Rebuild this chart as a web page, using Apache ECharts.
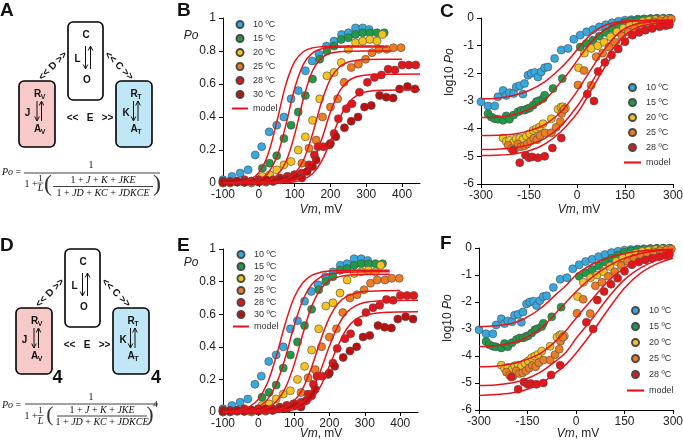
<!DOCTYPE html>
<html><head><meta charset="utf-8">
<script src="https://cdn.jsdelivr.net/npm/echarts@6/dist/echarts.min.js"></script>
<style>html,body{margin:0;padding:0;background:#fff}#c{width:683px;height:444px}</style>
</head><body><div id="c"></div>
<script>
// ---------- DATA ----------
const temps = ['10 ºC','15 ºC','20 ºC','25 ºC','28 ºC','30 ºC'];
const colors = ['#36A9E1','#1E9B48','#F6C31C','#EE7D22','#E5161B','#BE0F10'];

// Po vs Vm data (panels B and E)
const b10 = [[-100,0.02],[-75,0.04],[-52,0.06],[-30,0.08],[-10,0.17],[8,0.22],[29,0.31],[50,0.35],[70,0.40],[90,0.51],[110,0.56],[130,0.68],[149,0.74],[168,0.78],[189,0.83],[210,0.86],[231,0.90],[250,0.91],[270,0.94],[290,0.94],[308,0.93]];
const b15 = [[-100,0.01],[-80,0.005],[-60,0.01],[-40,0.005],[-20,0.01],[10,0.09],[30,0.12],[50,0.165],[70,0.27],[90,0.35],[110,0.43],[130,0.53],[150,0.63],[170,0.75],[190,0.80],[210,0.83],[230,0.87],[250,0.88],[270,0.90],[290,0.91],[310,0.91],[330,0.91],[350,0.91]];
const b20 = [[-100,0.0],[-60,0.005],[-20,0.01],[0,0.02],[10,0.04],[30,0.05],[50,0.08],[70,0.11],[90,0.13],[110,0.20],[130,0.28],[150,0.38],[170,0.51],[190,0.65],[210,0.67],[230,0.73],[250,0.81],[270,0.85],[290,0.86],[310,0.87],[330,0.86],[345,0.90]];
const b25 = [[-100,0.0],[-80,0.0],[-40,0.005],[-20,0.0],[0,0.01],[20,0.005],[40,0.01],[60,0.02],[80,0.04],[100,0.05],[120,0.12],[140,0.21],[160,0.26],[178,0.40],[200,0.46],[220,0.51],[238,0.61],[258,0.70],[278,0.72],[298,0.75],[316,0.79],[335,0.81],[357,0.81],[376,0.82],[397,0.82]];
const b28 = [[-100,0.01],[-80,0.01],[-60,0.005],[-40,0.02],[-20,0.01],[0,0.02],[20,0.01],[40,0.02],[60,0.03],[80,0.04],[100,0.05],[120,0.06],[140,0.11],[155,0.17],[165,0.22],[180,0.22],[197,0.23],[210,0.30],[222,0.39],[244,0.45],[260,0.48],[281,0.55],[303,0.61],[323,0.64],[342,0.655],[361,0.69],[380,0.685],[400,0.715],[419,0.715],[438,0.715]];
const b30 = [[-100,0.005],[-80,0.005],[-60,0.01],[-40,0.005],[-20,0.01],[0,0.005],[20,0.02],[40,0.01],[60,0.02],[80,0.02],[100,0.04],[120,0.03],[135,0.07],[150,0.10],[160,0.14],[200,0.24],[215,0.28],[239,0.335],[258,0.375],[277,0.40],[295,0.46],[314,0.47],[337,0.53],[356,0.52],[375,0.515],[393,0.57],[415,0.585],[436,0.57]];

// log10 Po vs Vm data (panels C and F)
const c10 = [[-300,-3.03],[-278,-3.18],[-257,-3.18],[-247,-2.85],[-231,-2.62],[-221,-2.8],[-211,-2.7],[-198,-2.73],[-190,-2.49],[-179,-2.45],[-169,-2.75],[-164,-2.37],[-153,-2.07],[-143,-2.0],[-132,-1.97],[-122,-2.13],[-112,-1.95],[-101,-1.8],[-91,-1.77],[-70,-1.46],[-49,-1.16],[-28,-1.1],[-10,-0.77],[10,-0.62],[30,-0.5],[50,-0.42],[70,-0.32],[90,-0.24],[110,-0.17],[130,-0.12],[150,-0.08],[170,-0.06],[190,-0.04],[210,-0.03],[230,-0.02],[250,-0.01],[270,-0.01],[290,-0.01]];
const c15 = [[-278,-3.46],[-268,-3.58],[-257,-3.64],[-247,-3.66],[-231,-3.7],[-221,-3.54],[-211,-3.66],[-198,-3.51],[-184,-3.39],[-174,-3.33],[-164,-3.33],[-155,-3.28],[-148,-3.25],[-137,-3.15],[-127,-3.03],[-120,-2.99],[-106,-2.91],[-101,-2.79],[-75,-2.55],[-46,-2.19],[10,-1.05],[30,-0.92],[50,-0.8],[70,-0.66],[90,-0.52],[110,-0.38],[130,-0.26],[150,-0.16],[170,-0.1],[190,-0.07],[210,-0.05],[230,-0.03],[250,-0.02],[270,-0.01],[290,-0.01]];
const c20 = [[-231,-4.34],[-221,-4.46],[-211,-4.42],[-198,-4.5],[-190,-4.36],[-179,-4.34],[-169,-4.39],[-158,-4.27],[-148,-4.18],[-137,-4.06],[-127,-4.0],[-117,-3.94],[-106,-3.82],[-80,-3.64],[-59,-3.3],[-50,-3.22],[-44,-3.21],[-36,-3.26],[5,-1.8],[23,-1.27],[45,-1.1],[65,-1.0],[85,-0.88],[105,-0.68],[125,-0.5],[145,-0.37],[165,-0.26],[185,-0.19],[205,-0.13],[225,-0.09],[245,-0.06],[265,-0.04],[285,-0.03]];
const c25 = [[-215,-4.6],[-205,-4.72],[-195,-4.75],[-185,-4.55],[-175,-4.65],[-165,-4.62],[-155,-4.55],[-145,-4.45],[-135,-4.35],[-125,-4.4],[-115,-4.25],[-100,-4.15],[-80,-4.15],[-65,-3.95],[-52,-3.75],[-48,-3.45],[-40,-3.3],[3,-2.42],[22,-1.9],[44,-2.43],[60,-1.4],[80,-1.27],[100,-1.05],[120,-0.88],[140,-0.65],[160,-0.5],[180,-0.38],[200,-0.28],[220,-0.2],[240,-0.14],[260,-0.1],[280,-0.07],[295,-0.04]];
const c28 = [[-200,-4.78],[-179,-5.23],[-161,-4.96],[-150,-5.05],[-140,-5.02],[-122,-5.05],[-101,-5.0],[-77,-4.7],[-49,-4.34],[32,-2.75],[53,-3.0],[66,-1.93],[87,-1.61],[108,-1.34],[129,-1.12],[150,-0.86],[173,-0.62],[194,-0.52],[214,-0.44],[235,-0.38],[258,-0.32],[277,-0.28],[289,-0.24]];

// model curves, panel B
const mB10 = [[-100,0.001],[-75,0.002],[-50,0.007],[-25,0.021],[0,0.063],[25,0.169],[50,0.369],[75,0.593],[100,0.735],[125,0.797],[150,0.819],[175,0.826],[200,0.829],[250,0.83],[300,0.83],[350,0.83]];
const mB15 = [[-100,0.0],[-50,0.002],[-25,0.006],[0,0.019],[25,0.058],[50,0.156],[75,0.348],[100,0.573],[125,0.722],[150,0.789],[175,0.813],[200,0.821],[250,0.825],[300,0.825],[360,0.825]];
const mB20 = [[-100,0.0],[-50,0.001],[0,0.005],[25,0.015],[50,0.045],[75,0.126],[100,0.293],[125,0.515],[150,0.68],[175,0.757],[200,0.786],[225,0.795],[250,0.798],[300,0.80],[370,0.80]];
const mB25 = [[-100,0.0],[0,0.001],[50,0.008],[75,0.021],[100,0.057],[125,0.141],[150,0.297],[175,0.489],[200,0.631],[225,0.703],[250,0.733],[275,0.744],[300,0.748],[350,0.75],[400,0.75]];
const mB28 = [[-100,0.0],[0,0.0],[50,0.002],[75,0.007],[100,0.018],[125,0.05],[150,0.124],[175,0.261],[200,0.43],[225,0.555],[250,0.619],[275,0.645],[300,0.655],[350,0.659],[450,0.66]];
const mB30 = [[-100,0.0],[0,0.0],[50,0.001],[75,0.003],[100,0.008],[125,0.022],[150,0.056],[175,0.131],[200,0.254],[225,0.39],[250,0.485],[275,0.532],[300,0.553],[350,0.562],[450,0.565]];

// model curves, panel E
const mE10 = [[-100,0.002],[-75,0.005],[-50,0.013],[-25,0.033],[0,0.079],[25,0.176],[50,0.34],[75,0.537],[100,0.699],[125,0.793],[150,0.838],[175,0.857],[200,0.865],[250,0.869],[300,0.87],[370,0.87]];
const mE15 = [[-100,0.001],[-50,0.005],[-25,0.013],[0,0.032],[25,0.076],[50,0.169],[75,0.328],[100,0.524],[125,0.686],[150,0.782],[175,0.827],[200,0.847],[250,0.857],[300,0.86],[370,0.86]];
const mE20 = [[-100,0.0],[-50,0.002],[0,0.011],[25,0.026],[50,0.063],[75,0.143],[100,0.286],[125,0.477],[150,0.648],[175,0.754],[200,0.806],[225,0.829],[250,0.839],[300,0.844],[370,0.845]];
const mE25 = [[-100,0.0],[0,0.002],[50,0.012],[75,0.029],[100,0.067],[125,0.144],[150,0.275],[175,0.438],[200,0.579],[225,0.667],[250,0.711],[275,0.73],[300,0.739],[350,0.744],[400,0.745]];
const mE28 = [[-100,0.0],[0,0.001],[50,0.005],[100,0.027],[125,0.062],[150,0.133],[175,0.253],[200,0.403],[225,0.532],[250,0.613],[275,0.653],[300,0.672],[350,0.682],[450,0.685]];
const mE30 = [[-100,0.0],[0,0.0],[50,0.002],[100,0.014],[125,0.034],[150,0.076],[175,0.157],[200,0.282],[225,0.41],[250,0.514],[275,0.57],[300,0.594],[350,0.61],[450,0.615]];

// model curves, panel C
const mC10 = [[-300,-2.92],[-250,-2.9],[-200,-2.8],[-150,-2.62],[-100,-2.3],[-50,-1.8],[-25,-1.5],[0,-1.15],[25,-0.8],[50,-0.52],[75,-0.33],[100,-0.21],[125,-0.15],[150,-0.11],[200,-0.09],[250,-0.08],[300,-0.08]];
const mC15 = [[-300,-3.6],[-250,-3.58],[-200,-3.5],[-150,-3.3],[-100,-2.95],[-50,-2.3],[-25,-1.95],[0,-1.55],[25,-1.15],[50,-0.8],[75,-0.53],[100,-0.34],[125,-0.22],[150,-0.15],[200,-0.1],[250,-0.09],[300,-0.08]];
const mC20 = [[-300,-4.25],[-250,-4.24],[-200,-4.2],[-150,-4.08],[-100,-3.85],[-50,-3.4],[-25,-3.05],[0,-2.65],[25,-2.2],[50,-1.75],[75,-1.3],[100,-0.92],[125,-0.6],[150,-0.38],[175,-0.25],[200,-0.18],[250,-0.12],[300,-0.1]];
const mC25 = [[-300,-4.75],[-250,-4.74],[-200,-4.7],[-150,-4.58],[-100,-4.35],[-50,-3.9],[0,-3.2],[25,-2.75],[50,-2.25],[75,-1.75],[100,-1.3],[125,-0.92],[150,-0.62],[175,-0.42],[200,-0.3],[250,-0.18],[300,-0.14]];
const mC28 = [[-300,-4.97],[-250,-4.96],[-200,-4.92],[-150,-4.8],[-100,-4.55],[-50,-4.1],[0,-3.45],[25,-3.0],[50,-2.5],[75,-2.0],[100,-1.55],[125,-1.15],[150,-0.82],[175,-0.58],[200,-0.42],[250,-0.26],[300,-0.2]];

// model curves, panel F
const mF10 = [[-300,-2.92],[-250,-2.88],[-200,-2.8],[-160,-2.62],[-110,-2.24],[-60,-1.7],[-30,-1.38],[0,-1.0],[25,-0.78],[50,-0.6],[100,-0.36],[150,-0.2],[200,-0.11],[250,-0.07],[300,-0.05]];
const mF15 = [[-300,-3.65],[-250,-3.62],[-210,-3.55],[-160,-3.35],[-110,-2.98],[-60,-2.38],[-30,-2.0],[0,-1.62],[50,-1.08],[100,-0.67],[150,-0.38],[200,-0.2],[250,-0.11],[300,-0.07]];
const mF20 = [[-300,-4.4],[-250,-4.38],[-200,-4.3],[-160,-4.16],[-110,-3.9],[-60,-3.42],[-30,-3.05],[0,-2.6],[50,-1.9],[100,-1.22],[150,-0.74],[200,-0.44],[250,-0.25],[300,-0.14]];
const mF25 = [[-300,-5.09],[-250,-5.07],[-200,-5.0],[-160,-4.88],[-110,-4.6],[-60,-4.16],[-30,-3.85],[0,-3.35],[50,-2.62],[100,-1.83],[150,-1.17],[200,-0.74],[250,-0.45],[300,-0.26]];
const mF28 = [[-300,-5.46],[-250,-5.43],[-200,-5.37],[-160,-5.27],[-110,-5.02],[-60,-4.6],[-30,-4.3],[0,-3.9],[50,-3.12],[100,-2.27],[150,-1.48],[200,-0.93],[250,-0.59],[300,-0.38]];

const poTicks = [-100,0,100,200,300,400];
const logTicks = [-300,-150,0,150,300];

// ---------- CHART ----------
const FONT = '"Liberation Sans", Arial, sans-serif';
const SERIF = '"Liberation Serif", "Times New Roman", serif';
const MODEL = '#E8141B';

function xAx(gi, min, max, interval, custom) {
  return {
    type:'value', gridIndex:gi, min, max, interval,
    axisLine:{show:true, onZero:false, lineStyle:{color:'#000', width:1}},
    axisTick:{show:true, length:4, lineStyle:{color:'#000'}, customValues: custom},
    axisLabel:{fontSize:12, color:'#222', fontFamily:FONT, margin:6, customValues: custom},
    splitLine:{show:false}
  };
}
function yAx(gi, min, max, interval) {
  return {
    type:'value', gridIndex:gi, min, max, interval,
    axisLine:{show:true, onZero:false, lineStyle:{color:'#000', width:1}},
    axisTick:{show:true, length:4, lineStyle:{color:'#000'}},
    axisLabel:{fontSize:12, color:'#222', fontFamily:FONT, margin:7},
    splitLine:{show:false}
  };
}

const series = [];
function addScatter(sets, ai) {
  sets.forEach((d, i) => series.push({
    type:'scatter', name: temps[i], xAxisIndex:ai, yAxisIndex:ai, data:d,
    symbolSize:8, itemStyle:{color:colors[i], borderColor:'#4a4a4a', borderWidth:0.6, opacity:1}, z:2
  }));
}
function addModel(sets, ai) {
  sets.forEach(d => series.push({
    type:'line', name:'model', xAxisIndex:ai, yAxisIndex:ai, data:d,
    symbol:'none', showSymbol:false, smooth:0.35,
    lineStyle:{color:MODEL, width:1.5}, itemStyle:{color:MODEL}, z:3
  }));
}
addScatter([b10,b15,b20,b25,b28,b30], 0);
addModel([mB10,mB15,mB20,mB25,mB28,mB30], 0);
addScatter([c10,c15,c20,c25,c28], 1);
addModel([mC10,mC15,mC20,mC25,mC28], 1);
addScatter([b10,b15,b20,b25,b28,b30], 2);
addModel([mE10,mE15,mE20,mE25,mE28,mE30], 2);
addScatter([c10,c15,c20,c25,c28], 3);
addModel([mF10,mF15,mF20,mF25,mF28], 3);

function legend(left, top, gap, n, w) {
  return {
    orient:'vertical', left, top, itemWidth:w, itemHeight:7, itemGap:gap,
    padding:0, selectedMode:false,
    textStyle:{fontSize:9, color:'#333', fontFamily:FONT},
    data: temps.slice(0,n).map(name => ({name, icon:'circle'})).concat([
      {name:'model', icon:'path://M0,0L16,0L16,2L0,2Z', itemStyle:{color:MODEL, borderWidth:0}}
    ])
  };
}

// ---------- GRAPHIC (diagrams, equations, labels) ----------
const G = [];
function txt(x, y, text, o) {
  o = o || {};
  G.push({type:'text', x, y, rotation:o.rot||0, style:{
    text, fontSize:o.size||10, fontFamily:o.family||FONT, fontWeight:o.weight||'normal',
    fontStyle:o.style||'normal', fill:o.fill||'#111', align:o.align||'center', verticalAlign:o.va||'middle',
    rich:o.rich
  }, z:10});
}
function ln(x1,y1,x2,y2,w) {
  G.push({type:'line', shape:{x1,y1,x2,y2}, style:{stroke:'#111', lineWidth:w||0.8}, z:10});
}
function arrow(x, yFrom, yTo) {
  const d = yTo > yFrom ? 1 : -1;
  ln(x, yFrom, x, yTo, 1);
  G.push({type:'polyline', shape:{points:[[x-2.3, yTo-d*4.5],[x, yTo],[x+2.3, yTo-d*4.5]]}, style:{stroke:'#111', fill:null, lineWidth:1}, z:10});
}
function box(x,y,w,h,fill) {
  G.push({type:'rect', shape:{x,y,width:w,height:h,r:5}, style:{fill, stroke:'#000', lineWidth:1.6}, z:9});
}
function diagram(dx, dy) {
  const B = {weight:'bold', size:10};
  box(68+dx, 22+dy, 35, 78, '#ffffff');
  box(19+dx, 81+dy, 36, 66, '#F8C9C9');
  box(116+dx, 81+dy, 36, 66, '#C0E7F5');
  txt(86+dx, 35+dy, 'C', B); txt(77.5+dx, 59+dy, 'L', B); txt(87+dx, 80+dy, 'O', B);
  arrow(85.5+dx, 46+dy, 69+dy); arrow(90.5+dx, 69+dy, 46+dy);
  txt(37.5+dx, 94+dy, 'R', B); txt(43+dx, 97+dy, 'V', {weight:'bold', size:7});
  arrow(37+dx, 101+dy, 121+dy); arrow(41.5+dx, 121+dy, 101+dy);
  txt(27.5+dx, 113+dy, 'J', B);
  txt(37.5+dx, 129.5+dy, 'A', B); txt(43+dx, 132.5+dy, 'V', {weight:'bold', size:7});
  txt(134+dx, 94+dy, 'R', B); txt(139.5+dx, 97+dy, 'T', {weight:'bold', size:7});
  arrow(133.5+dx, 101+dy, 121+dy); arrow(138+dx, 121+dy, 101+dy);
  txt(126+dx, 113+dy, 'K', B);
  txt(134+dx, 129.5+dy, 'A', B); txt(139.5+dx, 132.5+dy, 'T', {weight:'bold', size:7});
  txt(53+dx, 66+dy, '<< D >>', {weight:'bold', size:10, rot:Math.PI/4});
  txt(119+dx, 66+dy, '<< C >>', {weight:'bold', size:10, rot:-Math.PI/4});
  txt(90+dx, 118+dy, '<<   E   >>', {weight:'bold', size:10});
}
diagram(0, 0);
diagram(-3, 227);
txt(57.5, 378.5, '4', {weight:'bold', size:18});
txt(156, 378.5, '4', {weight:'bold', size:18});

const IT = {i:{fontStyle:'italic', fontFamily:SERIF, fontSize:10}};
const S = {family:SERIF, size:10, rich:IT};
// Equation A
txt(2, 172, '{i|Po} =', Object.assign({align:'left'}, S));
txt(91, 165.5, '1', S);
ln(24, 173, 160, 173);
txt(31, 184, '1 +', S);
txt(40.5, 178.5, '1', {family:SERIF, size:9});
ln(37.5, 183, 43.5, 183, 0.6);
txt(40.5, 188.5, '{i|L}', S);
txt(48, 185, '(', {family:SERIF, size:24, fill:'#333'});
txt(103, 180, '1 + {i|J} + {i|K} + {i|JKE}', S);
ln(53, 186.5, 153, 186.5);
txt(103, 193, '1 + {i|JD} + {i|KC} + {i|JDKCE}', S);
txt(157, 185, ')', {family:SERIF, size:24, fill:'#333'});
// Equation D
txt(2, 405, '{i|Po} =', Object.assign({align:'left'}, S));
txt(91, 397, '1', S);
ln(25, 404, 158, 404);
txt(31, 416, '1 +', S);
txt(40.5, 410.5, '1', {family:SERIF, size:9});
ln(37.5, 415.5, 43.5, 415.5, 0.6);
txt(40.5, 421, '{i|L}', S);
txt(50, 415, '(', {family:SERIF, size:22, fill:'#333'});
txt(102, 410, '1 + {i|J} + {i|K} + {i|JKE}', S);
ln(57, 416, 147, 416);
txt(102, 422, '1 + {i|JD} + {i|KC} + {i|JDKCE}', S);
txt(150, 415, ')', {family:SERIF, size:22, fill:'#333'});
txt(155.5, 405, '4', {family:SERIF, size:9});

// panel letters
const L = {weight:'bold', size:19, align:'left', va:'top', fill:'#111'};
txt(0, 1, 'A', L); txt(177, 1, 'B', L); txt(440, 2, 'C', L);
txt(0, 236, 'D', L); txt(177, 236, 'E', L); txt(440, 234, 'F', L);

// axis titles
const AX = {size:12, fill:'#222', rich:{i:{fontStyle:'italic', fontSize:12, fontFamily:FONT, fill:'#222'}}};
txt(191, 36, '{i|Po}', AX);
txt(191, 263, '{i|Po}', AX);
txt(321, 210, '{i|Vm}, mV', AX);
txt(321, 434, '{i|Vm}, mV', AX);
txt(579, 210, '{i|Vm}, mV', AX);
txt(578, 434, '{i|Vm}, mV', AX);
txt(450, 72, 'log10 {i|Po}', Object.assign({rot:Math.PI/2}, AX));
txt(448, 318, 'log10 {i|Po}', Object.assign({rot:Math.PI/2}, AX));

const option = {
  animation:false,
  backgroundColor:'#fff',
  grid:[
    {left:223, top:18, width:197, height:165, outerBoundsMode:'none'},
    {left:481, top:18, width:192, height:166, outerBoundsMode:'none'},
    {left:223, top:249, width:195, height:163, outerBoundsMode:'none'},
    {left:479, top:248, width:194, height:162, outerBoundsMode:'none'}
  ],
  xAxis:[xAx(0,-100,450,100,poTicks), xAx(1,-300,300,150,logTicks), xAx(2,-100,450,100,poTicks), xAx(3,-300,300,150,logTicks)],
  yAxis:[yAx(0,0,1,0.2), yAx(1,-6,0,1), yAx(2,0,1,0.2), yAx(3,-6,0,1)],
  legend:[legend(232,20,5,6,16), legend(624,83,6,5,17), legend(233,250,3,6,16), legend(627,306,7,5,17)],
  series,
  graphic:G
};
const chart = echarts.init(document.getElementById('c'), null, {renderer:'canvas'});
chart.setOption(option);
</script></body></html>
